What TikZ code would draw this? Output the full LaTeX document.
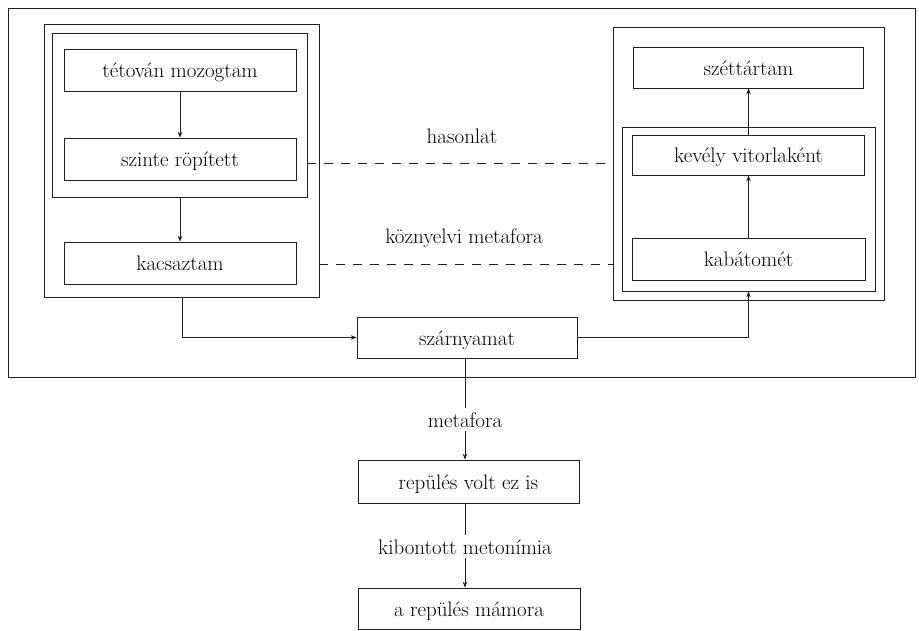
\documentclass[tikz,border=0pt]{standalone}
\usetikzlibrary{arrows.meta,calc}
\definecolor{ink}{gray}{0.12}
\begin{document}
\begin{tikzpicture}[x=1pt,y=-1pt,
  txt/.style={font=\fontsize{21}{25}\selectfont},
  wbox/.style={draw=ink, line width=0.7pt, rectangle, inner sep=0pt, txt,
               text height=16pt, text depth=0pt},
  grp/.style={draw=ink, line width=0.7pt, rectangle, inner sep=0pt},
  lbl/.style={txt, inner sep=4pt, anchor=base},
  arr/.style={draw=ink, line width=0.7pt, -{Stealth[length=6pt,width=4.5pt]}},
  ln/.style={draw=ink, line width=0.7pt},
  rel/.style={draw=ink, line width=0.7pt, dash pattern=on 9pt off 8pt}]
\useasboundingbox (0,0) rectangle (919,631);

% outer frame
\node[grp, minimum width=907, minimum height=369] (outer) at (461.5,192.5) {};

% left group
\node[grp, minimum width=275, minimum height=273] (lout) at (181.5,160.5) {};
\node[grp, minimum width=255, minimum height=164] (lin) at (179.5,115) {};
\node[wbox, minimum width=232, minimum height=42] (tet) at (180,70) {tétován mozogtam};
\node[wbox, minimum width=232, minimum height=42] (szinte) at (180,159) {szinte röpített};
\node[wbox, minimum width=232, minimum height=42] (kacs) at (180,263) {kacsaztam};

% right group
\node[grp, minimum width=271, minimum height=273] (rout) at (748.5,163.5) {};
\node[grp, minimum width=253, minimum height=164] (rin) at (748.5,209) {};
\node[wbox, minimum width=230, minimum height=41] (szet) at (748.5,67.5) {széttártam};
\node[wbox, minimum width=232, minimum height=40] (kevely) at (748.5,155) {kevély vitorlaként};
\node[wbox, minimum width=233, minimum height=42] (kabat) at (748.5,259) {kabátomét};

% middle
\node[wbox, minimum width=220, minimum height=41] (szarny) at (467,337.5) {szárnyamat};
\node[wbox, minimum width=221, minimum height=43] (repules) at (468.5,481.5) {repülés volt ez is};
\node[wbox, minimum width=222, minimum height=41] (mamora) at (469,608.5) {a repülés mámora};

% labels
\node[lbl] (hason) at (462,144) {hasonlat};
\node[lbl] (kozny) at (464,244) {köznyelvi metafora};
\node[lbl] (metaf) at (465,427) {metafora};
\node[lbl] (kibon) at (465,554) {kibontott metonímia};

% arrows inside the groups
\draw[arr] (tet) -- (szinte);
\draw[arr] (lin.south -| kacs) -- (kacs);
\draw[arr] (kabat) -- (kevely);
\draw[arr] (kevely) -- (szet);

% relations
\draw[rel] (lin.east |- 0,163) -- (rout.west |- 0,163);
\draw[rel] (lout.east |- 0,264) -- (rout.west |- 0,264);

% to and from szarnyamat
\draw[arr] (lout.south -| 182,0) |- (szarny.west);
\draw[arr] (szarny.east) -| (rin.south);

% bottom chain
\draw[ln] (szarny.south -| metaf) -- (metaf);
\draw[arr] (metaf) -- (metaf |- repules.north);
\draw[ln] (repules.south -| kibon) -- (kibon);
\draw[arr] (kibon) -- (kibon |- mamora.north);
\end{tikzpicture}
\end{document}
